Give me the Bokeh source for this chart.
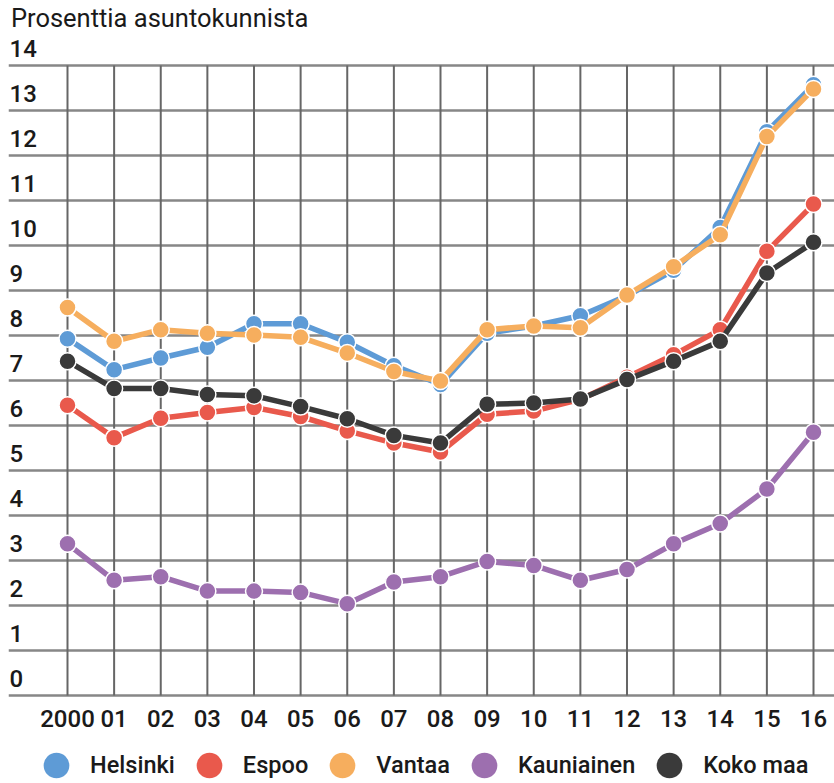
from bokeh.plotting import figure
from bokeh.models import Range1d, Grid, FixedTicker, Legend, LegendItem, ColumnDataSource
from bokeh.core.properties import value
from bokeh.embed import file_html
from bokeh.resources import INLINE

# ---- data ----
years = list(range(2000, 2017))
x_labels = ["2000", "01", "02", "03", "04", "05", "06", "07", "08",
            "09", "10", "11", "12", "13", "14", "15", "16"]
y_ticks = list(range(0, 15))
y_labels = [str(v) for v in y_ticks]

helsinki = [7.93, 7.24, 7.50, 7.74, 8.26, 8.26, 7.85, 7.33, 6.91, 8.05, 8.21, 8.44, 8.88, 9.45, 10.40, 12.53, 13.57]
espoo = [6.45, 5.73, 6.16, 6.29, 6.40, 6.20, 5.88, 5.61, 5.41, 6.25, 6.32, 6.58, 7.07, 7.57, 8.13, 9.87, 10.92]
vantaa = [8.62, 7.87, 8.13, 8.05, 8.01, 7.96, 7.61, 7.20, 6.99, 8.13, 8.21, 8.17, 8.90, 9.53, 10.24, 12.42, 13.48]
kauniainen = [3.37, 2.56, 2.64, 2.32, 2.32, 2.29, 2.04, 2.52, 2.64, 2.98, 2.89, 2.56, 2.80, 3.37, 3.82, 4.59, 5.85]
koko_maa = [7.43, 6.82, 6.82, 6.69, 6.66, 6.42, 6.15, 5.78, 5.61, 6.47, 6.50, 6.59, 7.02, 7.43, 7.87, 9.39, 10.07]

series_names = ["Helsinki", "Espoo", "Vantaa", "Kauniainen", "Koko maa"]
series_values = [helsinki, espoo, vantaa, kauniainen, koko_maa]
series_colors = ["#5e9bd6", "#e9594c", "#f6ae5e", "#9d6faf", "#3a3a3a"]

title_text = "Prosenttia asuntokunnista"

# ---- figure ----
X0, X1 = 1998.7346, 2016.4504
Y0, Y1 = -1.9556, 15.4444

p = figure(width=834, height=783, x_range=Range1d(X0, X1), y_range=Range1d(Y0, Y1),
           x_axis_type=None, y_axis_type=None, toolbar_location=None,
           output_backend="svg", min_border=0, min_border_left=8,
           outline_line_color=None,
           background_fill_color="white", border_fill_color="white")

# horizontal grid lines (full width)
p.add_layout(Grid(dimension=1, ticker=FixedTicker(ticks=y_ticks),
                  grid_line_color="#7a7a7a", grid_line_width=2.5, grid_line_alpha=0.9))

# vertical grid lines between 0 and 14
vsrc = ColumnDataSource(dict(x=years, y0=[y_ticks[0]] * len(years), y1=[y_ticks[-1]] * len(years)))
p.segment(x0="x", y0="y0", x1="x", y1="y1", source=vsrc, line_color="#666666", line_width=2)

FONT_NAME = "Roboto Medium"
LABEL_FONT = value(FONT_NAME)
TXT = "#1a1a1a"

# y tick labels above their gridlines
ysrc = ColumnDataSource(dict(x=[X0] * len(y_ticks), y=y_ticks, t=y_labels))
p.text(x="x", y="y", text="t", source=ysrc, x_offset=1, y_offset=-16.5,
       text_font=LABEL_FONT, text_font_size="24px", text_color=TXT,
       text_align="left", text_baseline="alphabetic")

# x tick labels
xsrc = ColumnDataSource(dict(x=years, y=[y_ticks[0]] * len(years), t=x_labels))
p.text(x="x", y="y", text="t", source=xsrc, y_offset=23,
       text_font=LABEL_FONT, text_font_size="24px", text_color=TXT,
       text_align="center", text_baseline="alphabetic")

# title
p.text(x=[X0], y=[y_ticks[-1]], text=[title_text], x_offset=2.4, y_offset=-47.5,
       text_font=value("Roboto"), text_font_size="25.5px", text_color=TXT,
       text_align="left", text_baseline="alphabetic")

# series
legend_items = []
for name, vals, col in zip(series_names, series_values, series_colors):
    src = ColumnDataSource(dict(x=years, y=vals))
    p.line("x", "y", source=src, line_color=col, line_width=5.5, line_join="round")
    sc = p.scatter("x", "y", source=src, size=17, fill_color=col, line_color="white", line_width=1.5)
    legend_items.append(LegendItem(label=name, renderers=[sc]))

legend = Legend(items=legend_items, orientation="horizontal", location=(14, -16),
                glyph_width=68, glyph_height=68, label_standoff=0, spacing=0,
                padding=0, margin=0, border_line_color=None, background_fill_alpha=0,
                label_text_font=FONT_NAME, label_text_font_size="23.5px", label_text_color=TXT)
p.add_layout(legend)

open("out.html", "w").write(file_html(p, INLINE))
